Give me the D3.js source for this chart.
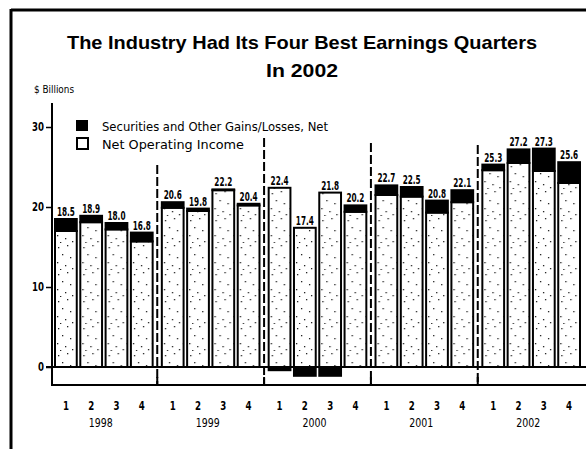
<!DOCTYPE html>
<html>
<head>
<meta charset="utf-8">
<script src="https://cdn.jsdelivr.net/npm/d3@7"></script>
<style>
  body { margin: 0; background: #fff; }
  text { font-family: "Liberation Sans Narrow", "DejaVu Sans Condensed", "Liberation Sans", sans-serif; fill: #000; }
</style>
</head>
<body>
<svg width="586" height="449"></svg>
<script>
var years = ["1998", "1999", "2000", "2001", "2002"];
var quarters = ["1", "2", "3", "4"];

// $ billions
var operating = [17.0, 18.1, 17.2, 15.7, 19.9, 19.5, 22.1, 20.2, 22.4, 17.4, 21.8, 19.4, 21.5, 21.3, 19.3, 20.6, 24.6, 25.5, 24.5, 23.0];
var securities = [1.5, 0.8, 0.8, 1.1, 0.7, 0.3, 0.1, 0.2, -0.4, -1.1, -1.1, 0.8, 1.2, 1.2, 1.5, 1.5, 0.7, 1.7, 2.8, 2.6];
var valueLabels = ["18.5", "18.9", "18.0", "16.8", "20.6", "19.8", "22.2", "20.4", "22.4", "17.4", "21.8", "20.2", "22.7", "22.5", "20.8", "22.1", "25.3", "27.2", "27.3", "25.6"];
var yTicks = [0, 10, 20, 30];

var data = operating.map(function (v, i) {
    return {
        year: years[Math.floor(i / 4)],
        q: quarters[i % 4],
        op: v,
        sec: securities[i],
        label: valueLabels[i]
    };
});

var svg = d3.select("svg");

// stipple for the operating income bars
var pat = svg.append("defs").append("pattern")
    .attr("id", "dots")
    .attr("patternUnits", "userSpaceOnUse")
    .attr("width", 19).attr("height", 27);
[[3, 4], [12, 2], [7, 11], [15, 14], [2, 19], [10, 22], [17, 25], [5, 26]].forEach(function (p) {
    pat.append("rect").attr("x", p[0]).attr("y", p[1]).attr("width", 1.3).attr("height", 1.3).attr("fill", "#222");
});

// frame
svg.append("line").attr("x1", 11).attr("x2", 586).attr("y1", 10).attr("y2", 10)
    .attr("stroke", "#000").attr("stroke-width", 3);
svg.append("line").attr("x1", 11).attr("x2", 11).attr("y1", 9).attr("y2", 449)
    .attr("stroke", "#000").attr("stroke-width", 3);

// title
svg.append("text").attr("x", 302).attr("y", 49).attr("text-anchor", "middle")
    .style("font-family", "'Liberation Sans', Arial, sans-serif")
    .style("font-weight", "bold").style("font-size", "19px")
    .attr("textLength", 470).attr("lengthAdjust", "spacingAndGlyphs")
    .text("The Industry Had Its Four Best Earnings Quarters");
svg.append("text").attr("x", 302).attr("y", 77).attr("text-anchor", "middle")
    .style("font-family", "'Liberation Sans', Arial, sans-serif")
    .style("font-weight", "bold").style("font-size", "19px")
    .attr("textLength", 72).attr("lengthAdjust", "spacingAndGlyphs")
    .text("In 2002");

svg.append("text").attr("x", 34).attr("y", 93)
    .style("font-size", "10px")
    .attr("textLength", 40).attr("lengthAdjust", "spacingAndGlyphs")
    .text("$ Billions");

var y = d3.scaleLinear().domain([0, 30]).range([367, 127]);

var x0 = d3.scaleBand().domain(years).range([55, 580]).paddingInner(0.086);
var x1 = d3.scaleBand().domain(quarters).range([0, x0.bandwidth()]).paddingInner(0.14);
var gap = x0.step() - x0.bandwidth();

// y axis
var yAxis = svg.append("g")
    .attr("transform", "translate(52,0)")
    .call(d3.axisLeft(y).tickValues(yTicks).tickSize(6).tickPadding(2));
yAxis.select(".domain").remove();
yAxis.selectAll(".tick line").attr("stroke-width", 1.5);
yAxis.selectAll(".tick text").style("font-size", "12px").style("font-weight", "bold")
    .style("font-family", "'Liberation Sans Narrow', 'DejaVu Sans Condensed', sans-serif")
    .attr("textLength", function (d) { return d === 0 ? 6 : 12; })
    .attr("lengthAdjust", "spacingAndGlyphs");

svg.append("line").attr("x1", 52).attr("x2", 52).attr("y1", 103).attr("y2", 386)
    .attr("stroke", "#000").attr("stroke-width", 2);

// year separators (the first one starts below the legend)
var sepTop = [165, 138, 143, 145];
years.slice(1).forEach(function (yr, i) {
    var sx = x0(yr) - gap / 2;
    svg.append("line").attr("x1", sx).attr("x2", sx).attr("y1", sepTop[i]).attr("y2", 386)
        .attr("stroke", "#000").attr("stroke-width", 2)
        .attr("stroke-dasharray", "9,3");
    svg.append("line").attr("x1", sx).attr("x2", sx).attr("y1", 377).attr("y2", 386)
        .attr("stroke", "#000").attr("stroke-width", 2);
});

var bars = svg.append("g").selectAll("g")
    .data(data)
    .enter()
    .append("g")
    .attr("transform", function (d) { return "translate(" + (x0(d.year) + x1(d.q)) + ",0)"; });

var bw = x1.bandwidth();

bars.append("rect")
    .attr("width", bw)
    .attr("y", function (d) { return y(d.op); })
    .attr("height", function (d) { return y(0) - y(d.op); })
    .attr("fill", "url(#dots)")
    .attr("stroke", "#000").attr("stroke-width", 2);

bars.append("rect")
    .attr("width", bw)
    .attr("y", function (d) { return d.sec >= 0 ? y(d.op + d.sec) : y(0); })
    .attr("height", function (d) { return Math.abs(y(0) - y(Math.abs(d.sec))); })
    .attr("fill", "#000")
    .attr("stroke", "#000").attr("stroke-width", 2);

bars.append("text")
    .attr("x", bw / 2)
    .attr("y", function (d) { return y(d.op + Math.max(d.sec, 0)) - 3; })
    .attr("text-anchor", "middle")
    .style("font-size", "12px").style("font-weight", "bold")
    .attr("textLength", 18).attr("lengthAdjust", "spacingAndGlyphs")
    .text(function (d) { return d.label; });

// baseline and lower axis line
svg.append("line").attr("x1", 46).attr("x2", 586).attr("y1", y(0)).attr("y2", y(0))
    .attr("stroke", "#000").attr("stroke-width", 2);
svg.append("line").attr("x1", 51).attr("x2", 586).attr("y1", 385).attr("y2", 385)
    .attr("stroke", "#000").attr("stroke-width", 2);

// quarter and year labels
bars.append("text")
    .attr("x", bw / 2)
    .attr("y", 410)
    .attr("text-anchor", "middle")
    .style("font-size", "13px").style("font-weight", "bold")
    .attr("textLength", 6).attr("lengthAdjust", "spacingAndGlyphs")
    .text(function (d) { return d.q; });

svg.append("g").selectAll("text")
    .data(years)
    .enter()
    .append("text")
    .attr("x", function (d) { return x0(d) + x0.bandwidth() / 2 - 3; })
    .attr("y", 427)
    .attr("text-anchor", "middle")
    .style("font-size", "13px")
    .attr("textLength", 24).attr("lengthAdjust", "spacingAndGlyphs")
    .text(function (d) { return d; });

// legend
svg.append("rect").attr("x", 76).attr("y", 120).attr("width", 12).attr("height", 11)
    .attr("fill", "#000");
svg.append("rect").attr("x", 77).attr("y", 138).attr("width", 11).attr("height", 11)
    .attr("fill", "#fff").attr("stroke", "#000").attr("stroke-width", 2);
svg.append("text").attr("x", 102).attr("y", 131)
    .style("font-size", "13px")
    .attr("textLength", 226).attr("lengthAdjust", "spacingAndGlyphs")
    .text("Securities and Other Gains/Losses, Net");
svg.append("text").attr("x", 102).attr("y", 149)
    .style("font-size", "13px")
    .attr("textLength", 142).attr("lengthAdjust", "spacingAndGlyphs")
    .text("Net Operating Income");
</script>
</body>
</html>
